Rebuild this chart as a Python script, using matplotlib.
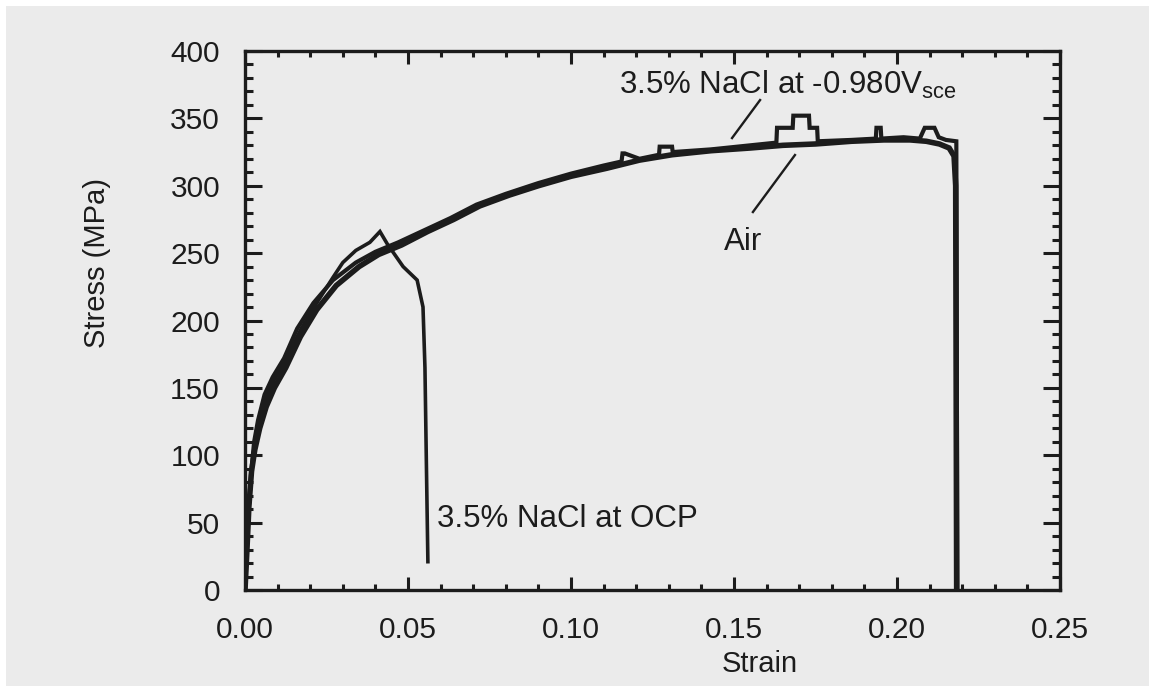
import matplotlib
matplotlib.use("Agg")
import matplotlib.pyplot as plt
from matplotlib.patches import Rectangle
from matplotlib.ticker import MultipleLocator

plt.rcParams["font.family"] = ["Liberation Sans", "DejaVu Sans"]
plt.rcParams["mathtext.fontset"] = "custom"
plt.rcParams["mathtext.rm"] = "Liberation Sans"
plt.rcParams["mathtext.it"] = "Liberation Sans:italic"

# 拉伸曲线：空气中
air_strain = [0.0, 0.0006, 0.0012, 0.002, 0.003, 0.0045, 0.0065, 0.009, 0.0125, 0.017,
              0.022, 0.028, 0.035, 0.041, 0.048, 0.056, 0.064, 0.072, 0.081, 0.090,
              0.100, 0.111, 0.121, 0.131, 0.143, 0.155, 0.165, 0.175, 0.186, 0.196,
              0.204, 0.209, 0.213, 0.2160, 0.2175, 0.2180, 0.2183]
air_stress = [0, 30, 62, 88, 104, 120, 136, 150, 165, 188,
              208, 226, 240, 249, 256, 266, 275, 285, 293, 300,
              307, 313, 319, 323, 326, 328, 330, 331, 333, 334,
              334, 333, 331, 328, 322, 300, 0]

# 3.5% NaCl，阴极极化 -0.980 V(SCE)
cat_strain = [0.0, 0.0005, 0.001, 0.0018, 0.0028, 0.004, 0.006, 0.0085, 0.012, 0.016,
              0.021, 0.027, 0.034, 0.040, 0.047, 0.055, 0.063, 0.071, 0.080, 0.090,
              0.100, 0.110, 0.1155, 0.1158, 0.1165, 0.121, 0.127, 0.1272, 0.131, 0.1312,
              0.143, 0.155, 0.163, 0.1632, 0.168, 0.1682, 0.173, 0.1732, 0.1755, 0.1757,
              0.186, 0.1935, 0.1937, 0.1950, 0.1952, 0.202, 0.207, 0.2085, 0.2115, 0.2128,
              0.2150, 0.2182, 0.2185]
cat_stress = [0, 25, 55, 85, 110, 126, 145, 158, 172, 194,
              213, 230, 243, 251, 258, 267, 276, 286, 294, 302,
              309, 315, 318, 324, 324, 320, 323, 329, 329, 325,
              327, 330, 332, 343, 343, 352, 352, 343, 343, 333,
              334, 335, 343, 343, 335, 336, 335, 343, 343, 336,
              334, 333, 0]

# 3.5% NaCl，开路电位
ocp_strain = [0.0, 0.0005, 0.0012, 0.002, 0.003, 0.0045, 0.0065, 0.009, 0.0125, 0.017,
              0.022, 0.027, 0.030, 0.034, 0.0383, 0.0414, 0.0436, 0.0485, 0.0528, 0.0546,
              0.0552, 0.0556, 0.0561]
ocp_stress = [0, 28, 60, 88, 108, 124, 142, 156, 170, 193,
              213, 232, 243, 252, 258, 266, 257, 240, 230, 210,
              165, 100, 21]

BG = "#ebebeb"
INK = "#1c1c1c"

fig = plt.figure(figsize=(11.49, 6.86), dpi=100, facecolor=BG)
# 扫描件顶部和左侧的白边
fig.add_artist(Rectangle((0, 1 - 6 / 686), 1, 6 / 686, transform=fig.transFigure,
                         facecolor="white", edgecolor="none"))
fig.add_artist(Rectangle((0, 0), 6 / 1149, 1, transform=fig.transFigure,
                         facecolor="white", edgecolor="none"))

ax = fig.add_axes([245 / 1149, 96 / 686, 815 / 1149, 539 / 686], facecolor=BG)

ax.plot(air_strain, air_stress, color=INK, lw=4.0, solid_joinstyle="miter")
ax.plot(cat_strain, cat_stress, color=INK, lw=3.0, solid_joinstyle="miter")
ax.plot(ocp_strain, ocp_stress, color=INK, lw=2.6, solid_joinstyle="miter")

ax.set_xlim(0, 0.25)
ax.set_ylim(0, 400)
ax.xaxis.set_major_locator(MultipleLocator(0.05))
ax.xaxis.set_minor_locator(MultipleLocator(0.01))
ax.yaxis.set_major_locator(MultipleLocator(50))
ax.yaxis.set_minor_locator(MultipleLocator(10))
ax.xaxis.set_major_formatter(lambda v, pos: f"{v:.2f}")
ax.yaxis.set_major_formatter(lambda v, pos: f"{v:.0f}")

for s in ax.spines.values():
    s.set_linewidth(2.4)
    s.set_color(INK)

ax.tick_params(axis="both", which="both", direction="in", top=True, right=True,
               width=2.2, color=INK, labelcolor=INK, labelsize=21.5)
ax.tick_params(axis="x", which="major", length=9.5, pad=19)
ax.tick_params(axis="x", which="minor", length=4.5)
ax.tick_params(axis="y", which="major", length=12, pad=18)
ax.tick_params(axis="y", which="minor", length=6)

ax.set_xlabel("Strain", fontsize=21, color=INK, va="center")
ax.xaxis.set_label_coords(0.632, -0.137)
ax.set_ylabel("Stress (MPa)", fontsize=21, color=INK, va="center", ha="center")
ax.yaxis.set_label_coords(-0.1816, 0.607)

# 曲线标注
ax.text(0.1666, 368, r"3.5% NaCl at -0.980V$_{\mathrm{sce}}$", fontsize=22.5,
        color=INK, ha="center", va="baseline")
ax.plot([0.158, 0.1494], [363.6, 335.4], color=INK, lw=1.7)
ax.text(0.1528, 258.3, "Air", fontsize=22.5, color=INK, ha="center", va="center")
ax.plot([0.1687, 0.1558], [322.8, 280.5], color=INK, lw=1.7)
ax.text(0.0590, 52.7, "3.5% NaCl at OCP", fontsize=22.5, color=INK,
        ha="left", va="center")

fig.savefig("out.png", dpi=100, facecolor=BG)
